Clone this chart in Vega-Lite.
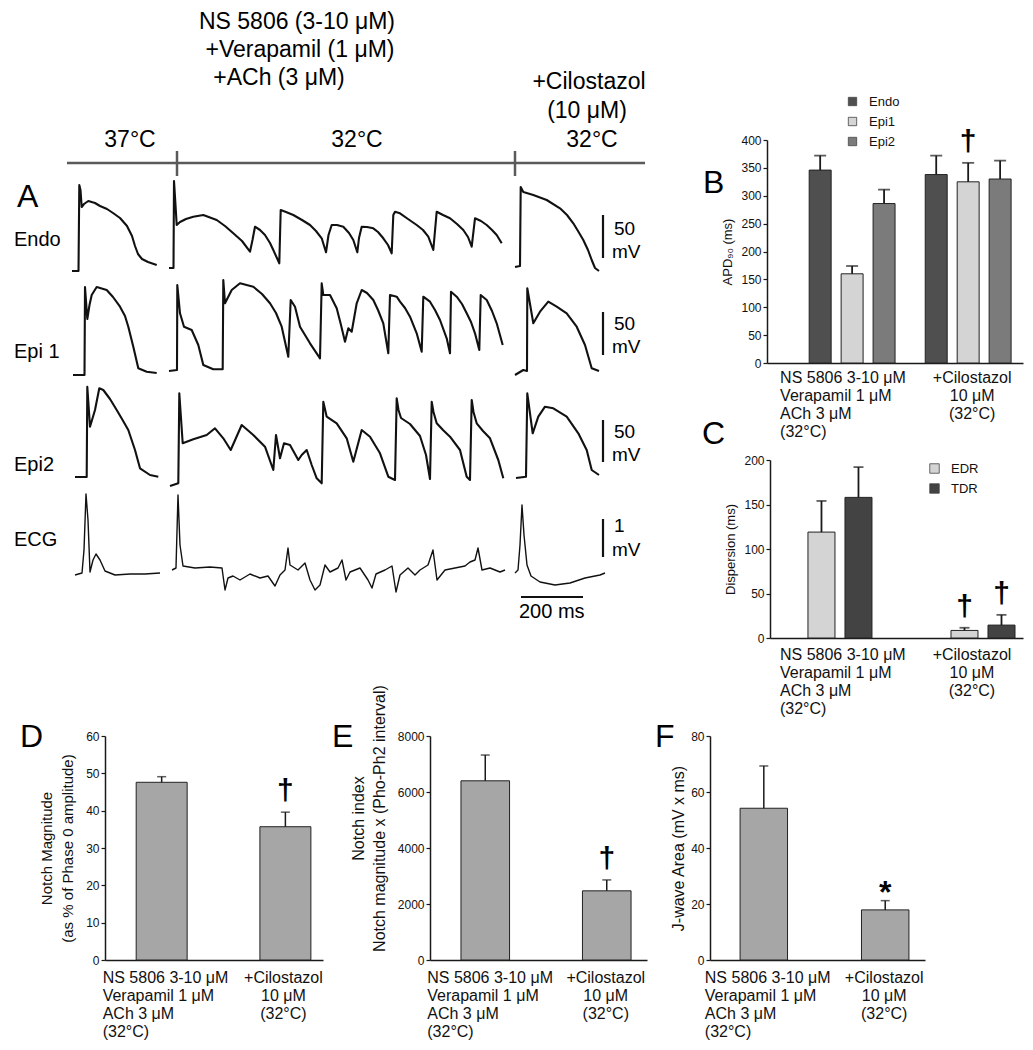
{
"$schema": "https://vega.github.io/schema/vega-lite/v6.json",
"usermeta": {"embedOptions": {"actions": false}},
"width": 1033, "height": 1050,
"autosize": {"type": "none"},
"padding": 0,
"resolve": {"scale": {"x": "independent", "y": "independent", "color": "independent", "xOffset": "independent"}, "axis": {"x": "independent", "y": "independent"}, "legend": {"color": "independent"}},
"config": {
  "font": "Liberation Sans",
  "view": {"stroke": null},
  "axis": {"grid": false, "domainColor": "#1a1a1a", "domainWidth": 1.5, "tickColor": "#1a1a1a", "tickWidth": 1.2, "labelColor": "#111", "titleColor": "#111", "titleFontWeight": "normal"},
  "text": {"color": "#000"}
},
"datasets": {
  "traces": [
    {"s":"e1","x":72,"y":271},{"s":"e1","x":78.5,"y":271},{"s":"e1","x":79.3,"y":185},{"s":"e1","x":80.5,"y":190},{"s":"e1","x":81.7,"y":207},{"s":"e1","x":84,"y":204},{"s":"e1","x":88.3,"y":201},{"s":"e1","x":95,"y":203},{"s":"e1","x":100,"y":206},{"s":"e1","x":107,"y":209},{"s":"e1","x":113,"y":213},{"s":"e1","x":120,"y":218},{"s":"e1","x":127,"y":226},{"s":"e1","x":132,"y":236},{"s":"e1","x":135,"y":246},{"s":"e1","x":138,"y":254},{"s":"e1","x":142,"y":259},{"s":"e1","x":148,"y":262},{"s":"e1","x":156.7,"y":265},
    {"s":"e2","x":169,"y":268},{"s":"e2","x":173.5,"y":268},{"s":"e2","x":174,"y":181},{"s":"e2","x":175.5,"y":205},{"s":"e2","x":176.7,"y":225},{"s":"e2","x":180,"y":222},{"s":"e2","x":186,"y":219},{"s":"e2","x":193.3,"y":216.7},{"s":"e2","x":203.3,"y":215},{"s":"e2","x":216.7,"y":220},{"s":"e2","x":225,"y":226},{"s":"e2","x":233.3,"y":233.3},{"s":"e2","x":242,"y":241},{"s":"e2","x":250,"y":251.7},{"s":"e2","x":252.5,"y":240},{"s":"e2","x":255,"y":226.7},{"s":"e2","x":260,"y":230},{"s":"e2","x":265,"y":235},{"s":"e2","x":270,"y":243},{"s":"e2","x":273.3,"y":250},{"s":"e2","x":279.3,"y":263.3},{"s":"e2","x":280.7,"y":210},{"s":"e2","x":286,"y":212},{"s":"e2","x":293.3,"y":215},{"s":"e2","x":302,"y":220},{"s":"e2","x":310,"y":225},{"s":"e2","x":316,"y":231},{"s":"e2","x":321.7,"y":238.3},{"s":"e2","x":326,"y":252.3},{"s":"e2","x":328.5,"y":235},{"s":"e2","x":331.7,"y":225},{"s":"e2","x":337,"y":225},{"s":"e2","x":343.3,"y":226.7},{"s":"e2","x":349,"y":233},{"s":"e2","x":353.3,"y":240},{"s":"e2","x":357.3,"y":252.3},{"s":"e2","x":359,"y":238},{"s":"e2","x":361.7,"y":226.7},{"s":"e2","x":367,"y":227},{"s":"e2","x":373.3,"y":228.3},{"s":"e2","x":378,"y":232},{"s":"e2","x":383.3,"y":238.3},{"s":"e2","x":388,"y":245},{"s":"e2","x":391.7,"y":253.3},{"s":"e2","x":393.3,"y":215},{"s":"e2","x":395,"y":211.7},{"s":"e2","x":400,"y":213.3},{"s":"e2","x":408,"y":219},{"s":"e2","x":416.7,"y":225},{"s":"e2","x":423,"y":230},{"s":"e2","x":428.3,"y":236.7},{"s":"e2","x":433.3,"y":250},{"s":"e2","x":436.7,"y":211.7},{"s":"e2","x":443,"y":215},{"s":"e2","x":450,"y":218.3},{"s":"e2","x":457,"y":224},{"s":"e2","x":463.3,"y":230},{"s":"e2","x":468,"y":237},{"s":"e2","x":471.7,"y":246.7},{"s":"e2","x":475,"y":218.3},{"s":"e2","x":481,"y":221},{"s":"e2","x":486.7,"y":225},{"s":"e2","x":492,"y":230},{"s":"e2","x":496.7,"y":235},{"s":"e2","x":501.7,"y":243.3},
    {"s":"e3","x":515,"y":267},{"s":"e3","x":520,"y":266},{"s":"e3","x":520.7,"y":187},{"s":"e3","x":523.3,"y":192},{"s":"e3","x":533.3,"y":195},{"s":"e3","x":546.7,"y":200},{"s":"e3","x":560,"y":208.3},{"s":"e3","x":567,"y":215},{"s":"e3","x":573.3,"y":223.3},{"s":"e3","x":578,"y":231},{"s":"e3","x":583.3,"y":240},{"s":"e3","x":588,"y":250},{"s":"e3","x":591.7,"y":260},{"s":"e3","x":595,"y":268},{"s":"e3","x":599,"y":271},
    {"s":"p1","x":73,"y":375},{"s":"p1","x":84.5,"y":375},{"s":"p1","x":85,"y":287},{"s":"p1","x":87.3,"y":319},{"s":"p1","x":89.5,"y":305},{"s":"p1","x":91.7,"y":295},{"s":"p1","x":96.7,"y":287},{"s":"p1","x":106.7,"y":290},{"s":"p1","x":113,"y":297},{"s":"p1","x":120,"y":306.7},{"s":"p1","x":125,"y":316},{"s":"p1","x":128.3,"y":326.7},{"s":"p1","x":133.3,"y":346.7},{"s":"p1","x":138.3,"y":368.3},{"s":"p1","x":146.7,"y":371.7},{"s":"p1","x":156.7,"y":373},
    {"s":"p2","x":169,"y":371},{"s":"p2","x":177,"y":370},{"s":"p2","x":177.3,"y":285},{"s":"p2","x":180,"y":313.3},{"s":"p2","x":184,"y":326.7},{"s":"p2","x":191.7,"y":330},{"s":"p2","x":198.3,"y":345},{"s":"p2","x":203.3,"y":365},{"s":"p2","x":213.3,"y":369.3},{"s":"p2","x":222.7,"y":369.3},{"s":"p2","x":223.3,"y":280},{"s":"p2","x":225,"y":303.3},{"s":"p2","x":231.7,"y":290},{"s":"p2","x":240,"y":283.3},{"s":"p2","x":253.3,"y":286.7},{"s":"p2","x":262,"y":294},{"s":"p2","x":270,"y":303.3},{"s":"p2","x":276,"y":313},{"s":"p2","x":281.7,"y":326.7},{"s":"p2","x":288.3,"y":356.7},{"s":"p2","x":290.7,"y":300},{"s":"p2","x":295,"y":306.7},{"s":"p2","x":300,"y":326.7},{"s":"p2","x":310,"y":343.3},{"s":"p2","x":320,"y":358.3},{"s":"p2","x":321.7,"y":283.3},{"s":"p2","x":323.3,"y":295},{"s":"p2","x":330,"y":295},{"s":"p2","x":336.7,"y":308.3},{"s":"p2","x":341,"y":325},{"s":"p2","x":345,"y":341.7},{"s":"p2","x":348.3,"y":328.3},{"s":"p2","x":351.7,"y":331.7},{"s":"p2","x":356.7,"y":303.3},{"s":"p2","x":361.7,"y":290},{"s":"p2","x":367,"y":293},{"s":"p2","x":373.3,"y":300},{"s":"p2","x":378,"y":310},{"s":"p2","x":383.3,"y":323.3},{"s":"p2","x":388.3,"y":353.3},{"s":"p2","x":390,"y":295},{"s":"p2","x":396.7,"y":296.7},{"s":"p2","x":400,"y":301.7},{"s":"p2","x":405,"y":308},{"s":"p2","x":410,"y":316.7},{"s":"p2","x":416.7,"y":333.3},{"s":"p2","x":421.7,"y":351.7},{"s":"p2","x":423.3,"y":296.7},{"s":"p2","x":430,"y":301.7},{"s":"p2","x":435,"y":310},{"s":"p2","x":440,"y":320},{"s":"p2","x":446.7,"y":338.3},{"s":"p2","x":450,"y":353.3},{"s":"p2","x":451,"y":291.7},{"s":"p2","x":456.7,"y":296.7},{"s":"p2","x":462,"y":304},{"s":"p2","x":466.7,"y":313.3},{"s":"p2","x":471,"y":322},{"s":"p2","x":475,"y":333.3},{"s":"p2","x":479.3,"y":350},{"s":"p2","x":480.7,"y":295},{"s":"p2","x":486.7,"y":300},{"s":"p2","x":492,"y":311},{"s":"p2","x":496.7,"y":323.3},{"s":"p2","x":502.7,"y":345},
    {"s":"p3","x":515,"y":375},{"s":"p3","x":523.3,"y":370},{"s":"p3","x":527,"y":371},{"s":"p3","x":527.3,"y":288.3},{"s":"p3","x":533.3,"y":323.3},{"s":"p3","x":540,"y":311.7},{"s":"p3","x":548.3,"y":301.7},{"s":"p3","x":556.7,"y":306.7},{"s":"p3","x":566.7,"y":313.3},{"s":"p3","x":576.7,"y":326.7},{"s":"p3","x":585,"y":345},{"s":"p3","x":591.7,"y":368.3},{"s":"p3","x":599,"y":371},
    {"s":"q1","x":75,"y":477},{"s":"q1","x":86.7,"y":477},{"s":"q1","x":87.3,"y":386.7},{"s":"q1","x":90,"y":426.7},{"s":"q1","x":95,"y":410},{"s":"q1","x":99.3,"y":388.3},{"s":"q1","x":103.3,"y":390},{"s":"q1","x":110,"y":399},{"s":"q1","x":116.7,"y":410},{"s":"q1","x":122,"y":419},{"s":"q1","x":128.3,"y":430},{"s":"q1","x":135,"y":450},{"s":"q1","x":140,"y":468.3},{"s":"q1","x":150,"y":475},{"s":"q1","x":158.3,"y":476.7},
    {"s":"q2","x":170,"y":486},{"s":"q2","x":178.3,"y":483.3},{"s":"q2","x":179.3,"y":393.3},{"s":"q2","x":182.7,"y":443.3},{"s":"q2","x":193.3,"y":439.3},{"s":"q2","x":206.7,"y":435},{"s":"q2","x":215,"y":428.3},{"s":"q2","x":223.3,"y":438.3},{"s":"q2","x":230.7,"y":450},{"s":"q2","x":241.7,"y":425},{"s":"q2","x":253.3,"y":435},{"s":"q2","x":265,"y":446.7},{"s":"q2","x":273.3,"y":470},{"s":"q2","x":276,"y":435},{"s":"q2","x":280,"y":458.3},{"s":"q2","x":284,"y":443.3},{"s":"q2","x":290,"y":445},{"s":"q2","x":298.3,"y":460},{"s":"q2","x":301.7,"y":455},{"s":"q2","x":306.7,"y":450},{"s":"q2","x":311.7,"y":465},{"s":"q2","x":316.7,"y":478.3},{"s":"q2","x":321.7,"y":483.3},{"s":"q2","x":323.3,"y":401.7},{"s":"q2","x":326.7,"y":416.7},{"s":"q2","x":336.7,"y":423.3},{"s":"q2","x":346.7,"y":438.3},{"s":"q2","x":353.3,"y":461.7},{"s":"q2","x":361.7,"y":430},{"s":"q2","x":370,"y":436.7},{"s":"q2","x":380,"y":453.3},{"s":"q2","x":388.3,"y":476.7},{"s":"q2","x":395,"y":480},{"s":"q2","x":396.7,"y":398.3},{"s":"q2","x":398.5,"y":410},{"s":"q2","x":401,"y":418},{"s":"q2","x":410,"y":424},{"s":"q2","x":420,"y":436},{"s":"q2","x":426,"y":455},{"s":"q2","x":430,"y":479},{"s":"q2","x":431.7,"y":401.7},{"s":"q2","x":433.5,"y":412},{"s":"q2","x":436.7,"y":423.3},{"s":"q2","x":443,"y":430},{"s":"q2","x":450,"y":436.7},{"s":"q2","x":460,"y":450},{"s":"q2","x":466.7,"y":476.7},{"s":"q2","x":470,"y":480},{"s":"q2","x":471.7,"y":400},{"s":"q2","x":473.5,"y":412},{"s":"q2","x":476.7,"y":423.3},{"s":"q2","x":483,"y":431},{"s":"q2","x":490,"y":438.3},{"s":"q2","x":498.3,"y":460},{"s":"q2","x":503.3,"y":478.3},
    {"s":"q3","x":516,"y":478},{"s":"q3","x":526,"y":476.7},{"s":"q3","x":527.3,"y":393.3},{"s":"q3","x":532.7,"y":433.3},{"s":"q3","x":538.3,"y":416.7},{"s":"q3","x":545,"y":406.7},{"s":"q3","x":553.3,"y":408.3},{"s":"q3","x":566.7,"y":416.7},{"s":"q3","x":578.3,"y":433.3},{"s":"q3","x":586.7,"y":450},{"s":"q3","x":591.7,"y":470},{"s":"q3","x":599,"y":475}
  ],
  "ecg": [
    {"s":"c1","x":75,"y":575},{"s":"c1","x":82,"y":573},{"s":"c1","x":84,"y":550},{"s":"c1","x":86,"y":494},{"s":"c1","x":88,"y":520},{"s":"c1","x":90,"y":572},{"s":"c1","x":93,"y":560},{"s":"c1","x":96,"y":554},{"s":"c1","x":100,"y":560},{"s":"c1","x":105,"y":571},{"s":"c1","x":115,"y":575},{"s":"c1","x":130,"y":574},{"s":"c1","x":145,"y":574},{"s":"c1","x":160,"y":573},
    {"s":"c2","x":172,"y":570},{"s":"c2","x":176,"y":568},{"s":"c2","x":178,"y":495},{"s":"c2","x":180,"y":545},{"s":"c2","x":183,"y":566},{"s":"c2","x":195,"y":568},{"s":"c2","x":210,"y":567},{"s":"c2","x":222,"y":568},{"s":"c2","x":225,"y":590},{"s":"c2","x":228,"y":578},{"s":"c2","x":233,"y":576},{"s":"c2","x":240,"y":580},{"s":"c2","x":250,"y":574},{"s":"c2","x":260,"y":578},{"s":"c2","x":268,"y":576},{"s":"c2","x":275,"y":586},{"s":"c2","x":280,"y":575},{"s":"c2","x":285,"y":570},{"s":"c2","x":288,"y":548},{"s":"c2","x":290,"y":565},{"s":"c2","x":298,"y":570},{"s":"c2","x":305,"y":563},{"s":"c2","x":310,"y":580},{"s":"c2","x":315,"y":590},{"s":"c2","x":320,"y":585},{"s":"c2","x":325,"y":565},{"s":"c2","x":330,"y":572},{"s":"c2","x":338,"y":568},{"s":"c2","x":342,"y":560},{"s":"c2","x":346,"y":580},{"s":"c2","x":350,"y":572},{"s":"c2","x":355,"y":570},{"s":"c2","x":360,"y":568},{"s":"c2","x":368,"y":580},{"s":"c2","x":372,"y":588},{"s":"c2","x":376,"y":574},{"s":"c2","x":385,"y":570},{"s":"c2","x":392,"y":566},{"s":"c2","x":396,"y":592},{"s":"c2","x":400,"y":575},{"s":"c2","x":408,"y":568},{"s":"c2","x":415,"y":575},{"s":"c2","x":420,"y":570},{"s":"c2","x":428,"y":565},{"s":"c2","x":433,"y":550},{"s":"c2","x":437,"y":580},{"s":"c2","x":445,"y":570},{"s":"c2","x":455,"y":568},{"s":"c2","x":465,"y":566},{"s":"c2","x":470,"y":562},{"s":"c2","x":475,"y":560},{"s":"c2","x":478,"y":548},{"s":"c2","x":482,"y":570},{"s":"c2","x":490,"y":568},{"s":"c2","x":500,"y":572},{"s":"c2","x":505,"y":570},
    {"s":"c3","x":515,"y":573},{"s":"c3","x":518,"y":570},{"s":"c3","x":520,"y":545},{"s":"c3","x":522,"y":505},{"s":"c3","x":524,"y":535},{"s":"c3","x":527,"y":565},{"s":"c3","x":531,"y":576},{"s":"c3","x":540,"y":582},{"s":"c3","x":555,"y":585},{"s":"c3","x":570,"y":583},{"s":"c3","x":585,"y":578},{"s":"c3","x":600,"y":575},{"s":"c3","x":605,"y":573}
  ],
  "timeline": [
    {"x":67,"y":163,"x2":645,"y2":163},
    {"x":177,"y":151,"x2":177,"y2":176},
    {"x":515,"y":151,"x2":515,"y2":176}
  ],
  "scalebars": [
    {"x":603,"y":215,"x2":603,"y2":258},
    {"x":603,"y":312,"x2":603,"y2":355},
    {"x":603,"y":420,"x2":603,"y2":462},
    {"x":603,"y":519,"x2":603,"y2":557},
    {"x":521,"y":597,"x2":583,"y2":597}
  ],
  "hdr": [
    {"t":"NS 5806 (3-10 μM)","x":297,"y":22},
    {"t":"+Verapamil (1 μM)","x":300,"y":50},
    {"t":"+ACh  (3 μM)","x":279,"y":78},
    {"t":"+Cilostazol","x":589,"y":82},
    {"t":"(10 μM)","x":587,"y":111},
    {"t":"37°C","x":130,"y":140},
    {"t":"32°C","x":357,"y":140},
    {"t":"32°C","x":592,"y":140}
  ],
  "rowlab": [
    {"t":"Endo","x":14,"y":240},
    {"t":"Epi 1","x":14,"y":352},
    {"t":"Epi2","x":14,"y":465},
    {"t":"ECG","x":14,"y":540},
    {"t":"200 ms","x":519,"y":612}
  ],
  "scalelab": [
    {"t":"50","x":614,"y":229},
    {"t":"mV","x":612,"y":252},
    {"t":"50","x":614,"y":324},
    {"t":"mV","x":612,"y":347},
    {"t":"50","x":614,"y":432},
    {"t":"mV","x":612,"y":455},
    {"t":"1","x":614,"y":526},
    {"t":"mV","x":612,"y":550}
  ],
  "letters": [
    {"t":"A","x":17,"y":197},
    {"t":"B","x":703,"y":183},
    {"t":"C","x":702,"y":434},
    {"t":"D","x":20,"y":737},
    {"t":"E","x":332,"y":737},
    {"t":"F","x":655,"y":737}
  ],
  "apd": [
    {"cond":"NS 5806 3-10 μM|Verapamil 1 μM|ACh 3 μM|(32°C)","cell":"Endo","mean":346,"upper":372,"sig":""},
    {"cond":"NS 5806 3-10 μM|Verapamil 1 μM|ACh 3 μM|(32°C)","cell":"Epi1","mean":160,"upper":174,"sig":""},
    {"cond":"NS 5806 3-10 μM|Verapamil 1 μM|ACh 3 μM|(32°C)","cell":"Epi2","mean":286,"upper":311,"sig":""},
    {"cond":"+Cilostazol|10 μM|(32°C)","cell":"Endo","mean":338,"upper":372,"sig":""},
    {"cond":"+Cilostazol|10 μM|(32°C)","cell":"Epi1","mean":325,"upper":359,"sig":"†"},
    {"cond":"+Cilostazol|10 μM|(32°C)","cell":"Epi2","mean":330,"upper":363,"sig":""}
  ],
  "disp": [
    {"cond":"NS 5806 3-10 μM|Verapamil 1 μM|ACh 3 μM|(32°C)","m":"EDR","mean":119,"upper":154,"sig":""},
    {"cond":"NS 5806 3-10 μM|Verapamil 1 μM|ACh 3 μM|(32°C)","m":"TDR","mean":158,"upper":192,"sig":""},
    {"cond":"+Cilostazol|10 μM|(32°C)","m":"EDR","mean":8.5,"upper":11.5,"sig":"†"},
    {"cond":"+Cilostazol|10 μM|(32°C)","m":"TDR","mean":14.5,"upper":26,"sig":"†"}
  ],
  "notch": [
    {"cond":"NS 5806 3-10 μM|Verapamil 1 μM|ACh 3 μM|(32°C)","mean":47.6,"upper":49.1,"sig":""},
    {"cond":"+Cilostazol|10 μM|(32°C)","mean":35.7,"upper":39.6,"sig":"†"}
  ],
  "nindex": [
    {"cond":"NS 5806 3-10 μM|Verapamil 1 μM|ACh 3 μM|(32°C)","mean":6400,"upper":7320,"sig":""},
    {"cond":"+Cilostazol|10 μM|(32°C)","mean":2470,"upper":2860,"sig":"†"}
  ],
  "jwave": [
    {"cond":"NS 5806 3-10 μM|Verapamil 1 μM|ACh 3 μM|(32°C)","mean":54.2,"upper":69.3,"sig":""},
    {"cond":"+Cilostazol|10 μM|(32°C)","mean":17.9,"upper":21.2,"sig":"*"}
  ]
},
"layer": [
  {
    "encoding": {
      "x": {"field": "x", "type": "quantitative", "scale": {"domain": [0, 1033], "nice": false, "zero": false}, "axis": null},
      "y": {"field": "y", "type": "quantitative", "scale": {"domain": [0, 1050], "nice": false, "zero": false, "reverse": true}, "axis": null}
    },
    "layer": [
      {"data": {"name": "traces"}, "mark": {"type": "line", "color": "#111", "strokeWidth": 2.1, "strokeJoin": "round"}, "encoding": {"detail": {"field": "s", "type": "nominal"}}},
      {"data": {"name": "ecg"}, "mark": {"type": "line", "color": "#111", "strokeWidth": 1.4, "strokeJoin": "round"}, "encoding": {"detail": {"field": "s", "type": "nominal"}}},
      {"data": {"name": "timeline"}, "mark": {"type": "rule", "color": "#5a5a5a", "strokeWidth": 2.5}, "encoding": {"x2": {"field": "x2"}, "y2": {"field": "y2"}}},
      {"data": {"name": "scalebars"}, "mark": {"type": "rule", "color": "#111", "strokeWidth": 2.2}, "encoding": {"x2": {"field": "x2"}, "y2": {"field": "y2"}}},
      {"data": {"name": "hdr"}, "mark": {"type": "text", "fontSize": 23, "align": "center", "baseline": "middle"}, "encoding": {"text": {"field": "t"}}},
      {"data": {"name": "rowlab"}, "mark": {"type": "text", "fontSize": 20, "align": "left", "baseline": "middle"}, "encoding": {"text": {"field": "t"}}},
      {"data": {"name": "scalelab"}, "mark": {"type": "text", "fontSize": 19, "align": "left", "baseline": "middle"}, "encoding": {"text": {"field": "t"}}},
      {"data": {"name": "letters"}, "mark": {"type": "text", "fontSize": 32, "align": "left", "baseline": "middle"}, "encoding": {"text": {"field": "t"}}}
    ]
  },
  {
    "data": {"name": "apd"},
    "encoding": {
      "x": {"field": "cond", "type": "nominal", "sort": null, "title": null,
        "scale": {"range": [767, 1023], "paddingInner": 0.26, "paddingOuter": 0.233, "align": 0.78},
        "axis": {"orient": "bottom", "offset": -687, "ticks": false, "tickSize": 0, "labelExpr": "split(datum.label, '|')", "labelFontSize": 16, "labelLineHeight": 18.3, "labelPadding": 6, "labelAngle": 0, "labelLimit": 0, "labelOverlap": false, "labelBound": false, "labelFlush": false,
          "labelAlign": {"condition": {"test": "indexof(datum.value, 'NS') === 0", "value": "left"}, "value": "center"},
          "labelOffset": {"condition": {"test": "indexof(datum.value, 'NS') === 0", "value": -72}, "value": 4}}},
      "xOffset": {"field": "cell", "type": "nominal", "sort": ["Endo", "Epi1", "Epi2"], "scale": {"paddingInner": 0.3125, "paddingOuter": 0}},
      "y": {"field": "mean", "type": "quantitative", "scale": {"domain": [0, 400], "range": [363, 140], "nice": false, "zero": false},
        "axis": {"orient": "left", "offset": -767, "title": "APD₉₀ (ms)", "values": [0,50,100,150,200,250,300,350,400], "labelFontSize": 12, "titleFontSize": 13, "tickSize": 4, "labelPadding": 2, "titlePadding": 6}}
    },
    "layer": [
      {"mark": {"type": "bar", "stroke": "#222", "strokeWidth": 1},
       "encoding": {
         "color": {"field": "cell", "type": "nominal", "scale": {"domain": ["Endo", "Epi1", "Epi2"], "range": ["#4f4f4f", "#d4d4d4", "#7b7b7b"]},
           "legend": {"title": null, "orient": "none", "legendX": 846, "legendY": 95, "symbolType": "square", "symbolSize": 70, "symbolStrokeColor": "#444", "symbolStrokeWidth": 0.8, "symbolOpacity": 1, "labelFontSize": 13, "labelOffset": 10, "rowPadding": 6, "labelColor": "#111"}}
       }},
      {"mark": {"type": "rule", "color": "#1a1a1a", "strokeWidth": 1.8}, "encoding": {"y2": {"field": "upper"}}},
      {"mark": {"type": "tick", "color": "#1a1a1a", "thickness": 1.8, "size": 12}, "encoding": {"y": {"field": "upper", "type": "quantitative"}}},
      {"transform": [{"filter": "datum.sig === '†'"}], "mark": {"type": "text", "fontSize": 30, "fontWeight": "bold", "baseline": "alphabetic", "dy": -12}, "encoding": {"y": {"field": "upper", "type": "quantitative"}, "text": {"field": "sig"}}}
    ]
  },
  {
    "data": {"name": "disp"},
    "encoding": {
      "x": {"field": "cond", "type": "nominal", "sort": null, "title": null,
        "scale": {"range": [770, 1023], "paddingInner": 0.5524, "paddingOuter": 0.1607, "align": 0.826},
        "axis": {"orient": "bottom", "offset": -412, "ticks": false, "tickSize": 0, "labelExpr": "split(datum.label, '|')", "labelFontSize": 16, "labelLineHeight": 18.3, "labelPadding": 8, "labelAngle": 0, "labelLimit": 0, "labelOverlap": false, "labelBound": false, "labelFlush": false,
          "labelAlign": {"condition": {"test": "indexof(datum.value, 'NS') === 0", "value": "left"}, "value": "center"},
          "labelOffset": {"condition": {"test": "indexof(datum.value, 'NS') === 0", "value": -60}, "value": -11}}},
      "xOffset": {"field": "m", "type": "nominal", "sort": ["EDR", "TDR"], "scale": {"paddingInner": 0.27, "paddingOuter": 0}},
      "y": {"field": "mean", "type": "quantitative", "scale": {"domain": [0, 200], "range": [638, 460], "nice": false, "zero": false},
        "axis": {"orient": "left", "offset": -770, "title": "Dispersion (ms)", "values": [0,50,100,150,200], "labelFontSize": 12, "titleFontSize": 13, "tickSize": 4, "labelPadding": 2, "titlePadding": 6}}
    },
    "layer": [
      {"mark": {"type": "bar", "stroke": "#222", "strokeWidth": 1},
       "encoding": {
         "color": {"field": "m", "type": "nominal", "scale": {"domain": ["EDR", "TDR"], "range": ["#d4d4d4", "#434343"]},
           "legend": {"title": null, "orient": "none", "legendX": 928, "legendY": 462, "symbolType": "square", "symbolSize": 90, "symbolStrokeColor": "#444", "symbolStrokeWidth": 0.8, "symbolOpacity": 1, "labelFontSize": 13, "labelOffset": 10, "rowPadding": 6, "labelColor": "#111"}}
       }},
      {"mark": {"type": "rule", "color": "#1a1a1a", "strokeWidth": 1.8}, "encoding": {"y2": {"field": "upper"}}},
      {"mark": {"type": "tick", "color": "#1a1a1a", "thickness": 1.8, "size": 10}, "encoding": {"y": {"field": "upper", "type": "quantitative"}}},
      {"transform": [{"filter": "datum.sig === '†'"}], "mark": {"type": "text", "fontSize": 30, "fontWeight": "bold", "baseline": "alphabetic", "dy": -12}, "encoding": {"y": {"field": "upper", "type": "quantitative"}, "text": {"field": "sig"}}}
    ]
  },
  {
    "data": {"name": "notch"},
    "encoding": {
      "x": {"field": "cond", "type": "nominal", "sort": null, "title": null,
        "scale": {"range": [105, 323], "paddingInner": 0.588, "paddingOuter": 0.175, "align": 0.72},
        "axis": {"orient": "bottom", "offset": -90, "ticks": false, "tickSize": 0, "labelExpr": "split(datum.label, '|')", "labelFontSize": 16, "labelLineHeight": 18.3, "labelPadding": 9, "labelAngle": 0, "labelLimit": 0, "labelOverlap": false, "labelBound": false, "labelFlush": false,
          "labelAlign": {"condition": {"test": "indexof(datum.value, 'NS') === 0", "value": "left"}, "value": "center"},
          "labelOffset": {"condition": {"test": "indexof(datum.value, 'NS') === 0", "value": -59}, "value": -2}}},
      "y": {"field": "mean", "type": "quantitative", "scale": {"domain": [0, 60], "range": [960, 736], "nice": false, "zero": false},
        "axis": {"orient": "left", "offset": -105, "title": ["Notch Magnitude", "(as % of Phase 0 amplitude)"], "values": [0,10,20,30,40,50,60], "labelFontSize": 12, "titleFontSize": 15, "titleLineHeight": 21, "tickSize": 4, "labelPadding": 2, "titlePadding": 10}}
    },
    "layer": [
      {"mark": {"type": "bar", "color": "#a6a6a6", "stroke": "#222", "strokeWidth": 1}},
      {"mark": {"type": "rule", "color": "#1a1a1a", "strokeWidth": 1.5}, "encoding": {"y2": {"field": "upper"}}},
      {"mark": {"type": "tick", "color": "#1a1a1a", "thickness": 1.5, "size": 9}, "encoding": {"y": {"field": "upper", "type": "quantitative"}}},
      {"transform": [{"filter": "datum.sig === '†'"}], "mark": {"type": "text", "fontSize": 30, "fontWeight": "bold", "baseline": "alphabetic", "dy": -12}, "encoding": {"y": {"field": "upper", "type": "quantitative"}, "text": {"field": "sig"}}}
    ]
  },
  {
    "data": {"name": "nindex"},
    "encoding": {
      "x": {"field": "cond", "type": "nominal", "sort": null, "title": null,
        "scale": {"range": [430, 647], "paddingInner": 0.6, "paddingOuter": 0.193, "align": 0.66},
        "axis": {"orient": "bottom", "offset": -90, "ticks": false, "tickSize": 0, "labelExpr": "split(datum.label, '|')", "labelFontSize": 16, "labelLineHeight": 18.3, "labelPadding": 9, "labelAngle": 0, "labelLimit": 0, "labelOverlap": false, "labelBound": false, "labelFlush": false,
          "labelAlign": {"condition": {"test": "indexof(datum.value, 'NS') === 0", "value": "left"}, "value": "center"},
          "labelOffset": {"condition": {"test": "indexof(datum.value, 'NS') === 0", "value": -58}, "value": -1}}},
      "y": {"field": "mean", "type": "quantitative", "scale": {"domain": [0, 8000], "range": [960, 736], "nice": false, "zero": false},
        "axis": {"orient": "left", "offset": -430, "title": ["Notch index", "Notch magnitude x (Pho-Ph2 interval)"], "values": [0,2000,4000,6000,8000], "format": "d", "labelFontSize": 12, "titleFontSize": 16, "titleLineHeight": 21, "tickSize": 4, "labelPadding": 2, "titlePadding": 10, "titleY": 818}}
    },
    "layer": [
      {"mark": {"type": "bar", "color": "#a6a6a6", "stroke": "#222", "strokeWidth": 1}},
      {"mark": {"type": "rule", "color": "#1a1a1a", "strokeWidth": 1.5}, "encoding": {"y2": {"field": "upper"}}},
      {"mark": {"type": "tick", "color": "#1a1a1a", "thickness": 1.5, "size": 9}, "encoding": {"y": {"field": "upper", "type": "quantitative"}}},
      {"transform": [{"filter": "datum.sig === '†'"}], "mark": {"type": "text", "fontSize": 30, "fontWeight": "bold", "baseline": "alphabetic", "dy": -12}, "encoding": {"y": {"field": "upper", "type": "quantitative"}, "text": {"field": "sig"}}}
    ]
  },
  {
    "data": {"name": "jwave"},
    "encoding": {
      "x": {"field": "cond", "type": "nominal", "sort": null, "title": null,
        "scale": {"range": [710, 925], "paddingInner": 0.609, "paddingOuter": 0.19, "align": 0.652},
        "axis": {"orient": "bottom", "offset": -90, "ticks": false, "tickSize": 0, "labelExpr": "split(datum.label, '|')", "labelFontSize": 16, "labelLineHeight": 18.3, "labelPadding": 9, "labelAngle": 0, "labelLimit": 0, "labelOverlap": false, "labelBound": false, "labelFlush": false,
          "labelAlign": {"condition": {"test": "indexof(datum.value, 'NS') === 0", "value": "left"}, "value": "center"},
          "labelOffset": {"condition": {"test": "indexof(datum.value, 'NS') === 0", "value": -59}, "value": -1}}},
      "y": {"field": "mean", "type": "quantitative", "scale": {"domain": [0, 80], "range": [960, 736], "nice": false, "zero": false},
        "axis": {"orient": "left", "offset": -710, "title": "J-wave Area (mV x ms)", "values": [0,20,40,60,80], "labelFontSize": 12, "titleFontSize": 16, "tickSize": 4, "labelPadding": 2, "titlePadding": 4}}
    },
    "layer": [
      {"mark": {"type": "bar", "color": "#a6a6a6", "stroke": "#222", "strokeWidth": 1}},
      {"mark": {"type": "rule", "color": "#1a1a1a", "strokeWidth": 1.5}, "encoding": {"y2": {"field": "upper"}}},
      {"mark": {"type": "tick", "color": "#1a1a1a", "thickness": 1.5, "size": 9}, "encoding": {"y": {"field": "upper", "type": "quantitative"}}},
      {"transform": [{"filter": "datum.sig === '*'"}], "mark": {"type": "text", "fontSize": 32, "fontWeight": "bold", "baseline": "alphabetic", "dy": 2}, "encoding": {"y": {"field": "upper", "type": "quantitative"}, "text": {"field": "sig"}}}
    ]
  }
]
}
